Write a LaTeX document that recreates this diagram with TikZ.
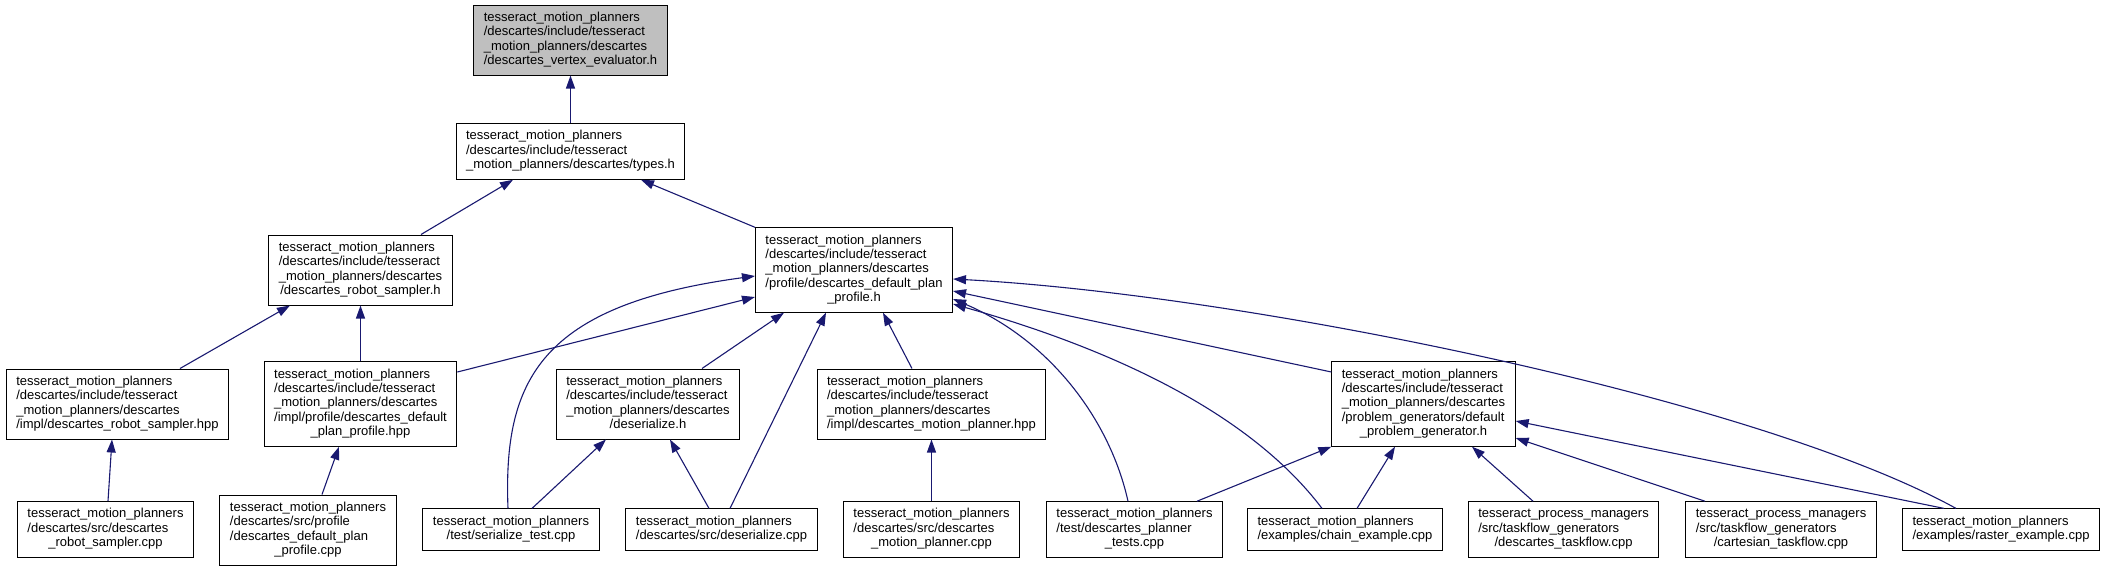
\documentclass[tikz,border=0pt]{standalone}
\usepackage{fontspec}
\setmainfont{Liberation Sans}
\usetikzlibrary{arrows.meta}
\definecolor{midblue}{RGB}{25,25,112}
% lines left, last line centred
\newcommand{\flbl}[2]{\begin{tabular}{@{}l@{}}#1\\\multicolumn{1}{@{}c@{}}{#2}\end{tabular}}
\tikzset{
	>={Triangle[length=13pt,width=9pt]},
	fil/.style={
		rectangle,
		draw=black, line width=1pt,
		fill=white,
		inner xsep=10pt,
		inner ysep=6.2pt,
		font=\fontsize{13}{14.4}\selectfont},
	aktiv/.style={
		fil,
		fill={rgb,255:red,191;green,191;blue,191}},
	pil/.style={
		->,
		draw=midblue,
		line width=1.1pt},
}

\begin{document}
\begin{tikzpicture}[x=1pt,y=1pt,yscale=-1,xscale=1]
\useasboundingbox (0,0) rectangle (2105,571);

% Text Node
\node[aktiv] (A) at (570.5,40) {\flbl{tesseract\_motion\_planners\\/descartes/include/tesseract\\\_motion\_planners/descartes}{/descartes\_vertex\_evaluator.h}};
% Text Node
\node[fil] (B) at (570.5,151.5) {\flbl{tesseract\_motion\_planners\\/descartes/include/tesseract}{\_motion\_planners/descartes/types.h}};
% Text Node
\node[fil] (C) at (360.5,270) {\flbl{tesseract\_motion\_planners\\/descartes/include/tesseract\\\_motion\_planners/descartes}{/descartes\_robot\_sampler.h}};
% Text Node
\node[fil] (D) at (854,270) {\flbl{tesseract\_motion\_planners\\/descartes/include/tesseract\\\_motion\_planners/descartes\\/profile/descartes\_default\_plan}{\_profile.h}};
% Text Node
\node[fil] (E) at (117.5,404) {\flbl{tesseract\_motion\_planners\\/descartes/include/tesseract\\\_motion\_planners/descartes}{/impl/descartes\_robot\_sampler.hpp}};
% Text Node
\node[fil] (F) at (360.5,404) {\flbl{tesseract\_motion\_planners\\/descartes/include/tesseract\\\_motion\_planners/descartes\\/impl/profile/descartes\_default}{\_plan\_profile.hpp}};
% Text Node
\node[fil] (G) at (648,404) {\flbl{tesseract\_motion\_planners\\/descartes/include/tesseract\\\_motion\_planners/descartes}{/deserialize.h}};
% Text Node
\node[fil] (H) at (931.5,404) {\flbl{tesseract\_motion\_planners\\/descartes/include/tesseract\\\_motion\_planners/descartes}{/impl/descartes\_motion\_planner.hpp}};
% Text Node
\node[fil] (N) at (1423.5,404) {\flbl{tesseract\_motion\_planners\\/descartes/include/tesseract\\\_motion\_planners/descartes\\/problem\_generators/default}{\_problem\_generator.h}};
% Text Node
\node[fil] (I) at (105.5,529.5) {\flbl{tesseract\_motion\_planners\\/descartes/src/descartes}{\_robot\_sampler.cpp}};
% Text Node
\node[fil] (J) at (308,530) {\flbl{tesseract\_motion\_planners\\/descartes/src/profile\\/descartes\_default\_plan}{\_profile.cpp}};
% Text Node
\node[fil] (K) at (511,529.5) {\flbl{tesseract\_motion\_planners}{/test/serialize\_test.cpp}};
% Text Node
\node[fil] (L) at (721.5,529.5) {\flbl{tesseract\_motion\_planners}{/descartes/src/deserialize.cpp}};
% Text Node
\node[fil] (M) at (931.5,529.5) {\flbl{tesseract\_motion\_planners\\/descartes/src/descartes}{\_motion\_planner.cpp}};
% Text Node
\node[fil] (O) at (1134.5,529.5) {\flbl{tesseract\_motion\_planners\\/test/descartes\_planner}{\_tests.cpp}};
% Text Node
\node[fil] (P) at (1345,529.5) {\flbl{tesseract\_motion\_planners}{/examples/chain\_example.cpp}};
% Text Node
\node[fil] (Q) at (1563.5,529.5) {\flbl{tesseract\_process\_managers\\/src/taskflow\_generators}{/descartes\_taskflow.cpp}};
% Text Node
\node[fil] (R) at (1781,529.5) {\flbl{tesseract\_process\_managers\\/src/taskflow\_generators}{/cartesian\_taskflow.cpp}};
% Text Node
\node[fil] (S) at (2001,529.5) {\flbl{tesseract\_motion\_planners}{/examples/raster\_example.cpp}};

% includes
\draw[pil] (B.north) -- (A.south);
\draw[pil] ([xshift=60.5pt]C.north) -- ([xshift=-57.5pt]B.south);
\draw[pil] (D.north west) -- ([xshift=70.5pt]B.south);
\draw[pil] ([xshift=62.5pt]E.north) -- ([xshift=-70.5pt]C.south);
\draw[pil] (F.north) -- (C.south);
\draw[pil] ([yshift=-32pt]F.east) -- ([yshift=27pt]D.west);
\draw[pil] ([xshift=-3pt]K.north) .. controls (503,380) and (540,305) .. ([yshift=6pt]D.west);
\draw[pil] ([xshift=8.5pt]L.north) -- ([xshift=-28pt]D.south);
\draw[pil] ([xshift=54pt]G.north) -- ([xshift=-70pt]D.south);
\draw[pil] ([xshift=-19.5pt]H.north) -- ([xshift=29pt]D.south);
\draw[pil] ([xshift=-6.5pt]O.north) .. controls (1110,420) and (1050,340) .. ([yshift=29pt]D.east);
\draw[pil] ([xshift=-23pt]P.north) .. controls (1240,400) and (1080,340) .. ([yshift=34pt]D.east);
\draw[pil] ([yshift=-32pt]N.west) -- ([yshift=21pt]D.east);
\draw[pil] ([xshift=-45pt]S.north) .. controls (1760,400) and (1250,295) .. ([yshift=9pt]D.east);
\draw[pil] ([xshift=2.5pt]I.north) -- ([xshift=-5.5pt]E.south);
\draw[pil] ([xshift=14pt]J.north) -- ([xshift=-21.5pt]F.south);
\draw[pil] ([xshift=21pt]K.north) -- ([xshift=-42pt]G.south);
\draw[pil] ([xshift=-12.5pt]L.north) -- ([xshift=22pt]G.south);
\draw[pil] (M.north) -- (H.south);
\draw[pil] ([xshift=62.5pt]O.north) -- (N.south west);
\draw[pil] ([xshift=12pt]P.north) -- ([xshift=-28.5pt]N.south);
\draw[pil] ([xshift=-30.5pt]Q.north) -- ([xshift=48.5pt]N.south);
\draw[pil] ([xshift=-76pt]R.north) -- ([yshift=34pt]N.east);
\draw[pil] ([xshift=-57pt]S.north) -- ([yshift=17pt]N.east);
\end{tikzpicture}
\end{document}
